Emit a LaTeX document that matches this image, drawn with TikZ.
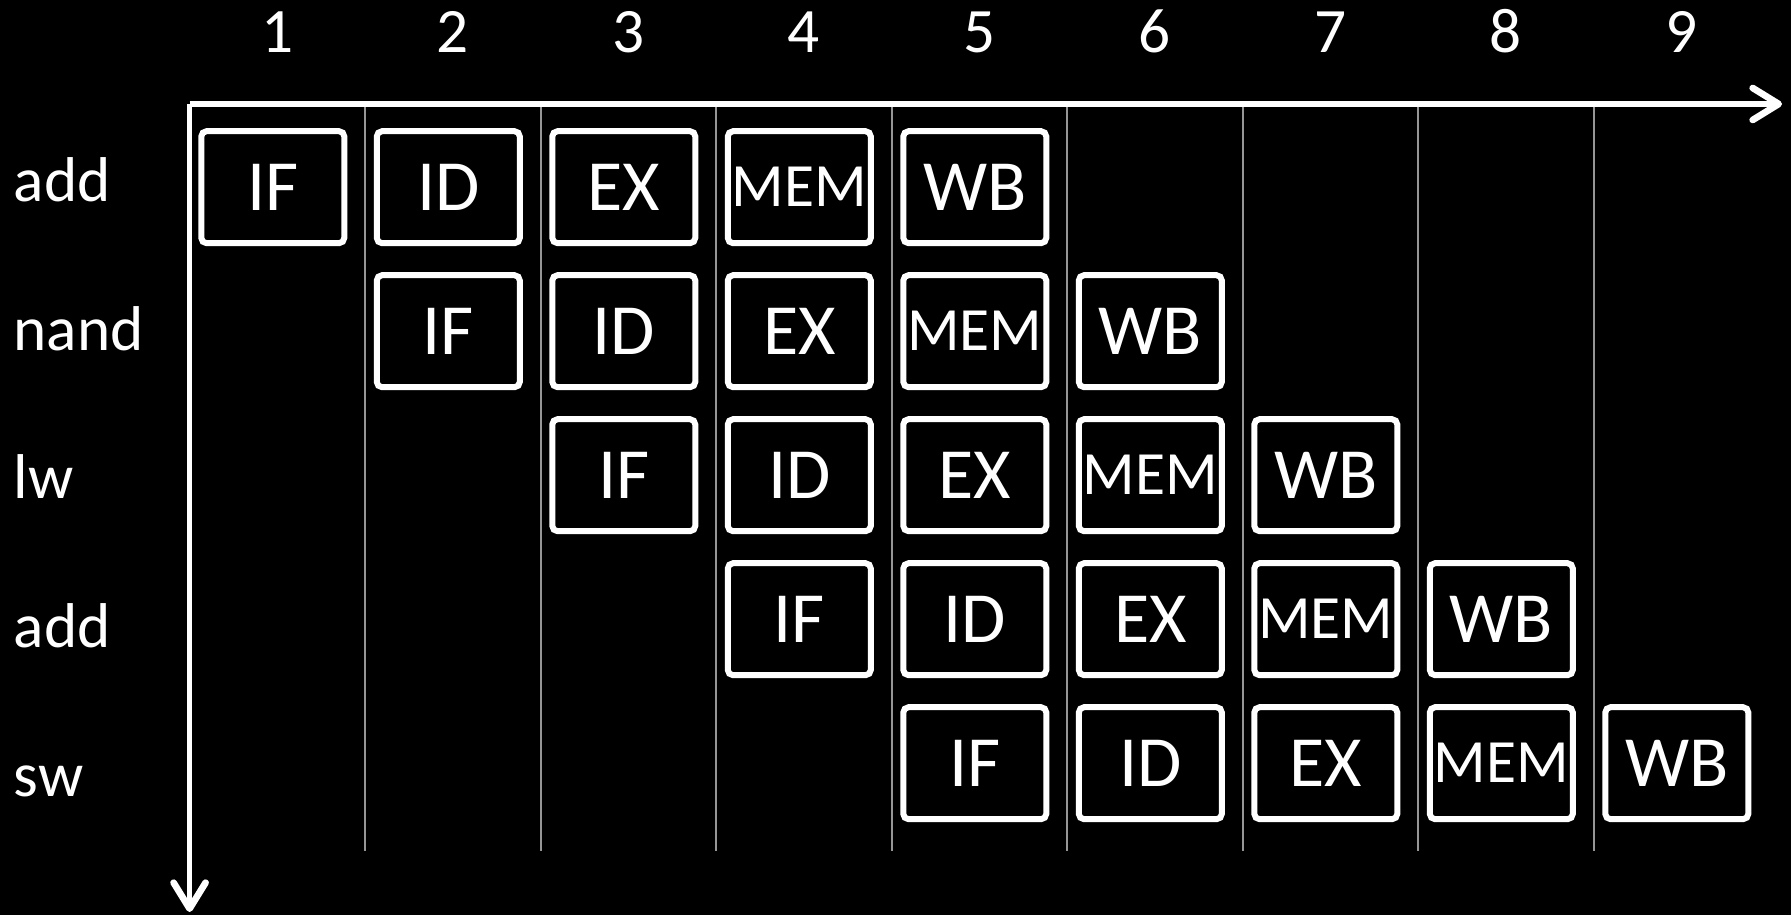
\documentclass[tikz,border=0pt]{standalone}
\usepackage{fontspec}
\setmainfont{Carlito}
\usetikzlibrary{arrows.meta, positioning}
\definecolor{gridgray}{RGB}{150,150,150}

\begin{document}
\begin{tikzpicture}[
    stage/.style={rectangle, draw=white, line width=1.7pt, rounded corners=1.5pt, minimum width=1.43cm, minimum height=1.12cm, inner sep=0pt, outer sep=0pt, text=white, font=\fontsize{20.5}{24}\selectfont},
    memstage/.style={stage, font=\fontsize{17.5}{20}\selectfont},
    instr/.style={anchor=base west, inner sep=0pt, text=white, font=\fontsize{18}{22}\selectfont},
    clocknum/.style={anchor=base, inner sep=0pt, text=white, font=\fontsize{18}{22}\selectfont},
    axis/.style={draw=white, line width=1.5pt, -{Straight Barb[length=2.6mm, width=3.2mm, line width=1.9pt, line cap=round, line join=round]}},
    gridline/.style={draw=gridgray, line width=0.6pt},
    node distance=0.32cm and 0.325cm
]

    % --- Background ---
    \fill [black] (0,0) rectangle (17.91,9.15);
    \useasboundingbox (0,0) rectangle (17.91,9.15);

    % --- Axes ---
    \coordinate (origin) at (1.896,8.11);
    \coordinate (timeend) at (17.82,8.11);
    \coordinate (instrend) at (1.896,0.03);

    % Cycle separators
    \draw [gridline] (3.651,8.11) -- (3.651,0.64);
    \draw [gridline] (5.406,8.11) -- (5.406,0.64);
    \draw [gridline] (7.161,8.11) -- (7.161,0.64);
    \draw [gridline] (8.916,8.11) -- (8.916,0.64);
    \draw [gridline] (10.671,8.11) -- (10.671,0.64);
    \draw [gridline] (12.426,8.11) -- (12.426,0.64);
    \draw [gridline] (14.181,8.11) -- (14.181,0.64);
    \draw [gridline] (15.936,8.11) -- (15.936,0.64);

    \path [axis] (origin) -- (timeend);
    \path [axis] (origin) -- (instrend);

    % --- Clock cycles ---
    \node [clocknum] (n1) at (2.774,8.625) {1};
    \node [clocknum] (n2) at (4.529,8.625) {2};
    \node [clocknum] (n3) at (6.284,8.625) {3};
    \node [clocknum] (n4) at (8.039,8.625) {4};
    \node [clocknum] (n5) at (9.794,8.625) {5};
    \node [clocknum] (n6) at (11.549,8.625) {6};
    \node [clocknum] (n7) at (13.304,8.625) {7};
    \node [clocknum] (n8) at (15.059,8.625) {8};
    \node [clocknum] (n9) at (16.814,8.625) {9};

    % --- Instructions ---
    \node [instr] (ins1) at (0.13,7.13) {add};
    \node [instr] (ins2) at (0.13,5.645) {nand};
    \node [instr] (ins3) at (0.13,4.16) {lw};
    \node [instr] (ins4) at (0.13,2.675) {add};
    \node [instr] (ins5) at (0.13,1.19) {sw};

    % --- Pipeline stages ---
    % add
    \node [stage] (if1) at (2.728,7.278) {IF};
    \node [stage, right=of if1] (id1) {ID};
    \node [stage, right=of id1] (ex1) {EX};
    \node [memstage, right=of ex1] (mem1) {MEM};
    \node [stage, right=of mem1] (wb1) {WB};

    % nand
    \node [stage, below=of id1] (if2) {IF};
    \node [stage, right=of if2] (id2) {ID};
    \node [stage, right=of id2] (ex2) {EX};
    \node [memstage, right=of ex2] (mem2) {MEM};
    \node [stage, right=of mem2] (wb2) {WB};

    % lw
    \node [stage, below=of id2] (if3) {IF};
    \node [stage, right=of if3] (id3) {ID};
    \node [stage, right=of id3] (ex3) {EX};
    \node [memstage, right=of ex3] (mem3) {MEM};
    \node [stage, right=of mem3] (wb3) {WB};

    % add
    \node [stage, below=of id3] (if4) {IF};
    \node [stage, right=of if4] (id4) {ID};
    \node [stage, right=of id4] (ex4) {EX};
    \node [memstage, right=of ex4] (mem4) {MEM};
    \node [stage, right=of mem4] (wb4) {WB};

    % sw
    \node [stage, below=of id4] (if5) {IF};
    \node [stage, right=of if5] (id5) {ID};
    \node [stage, right=of id5] (ex5) {EX};
    \node [memstage, right=of ex5] (mem5) {MEM};
    \node [stage, right=of mem5] (wb5) {WB};

\end{tikzpicture}
\end{document}
